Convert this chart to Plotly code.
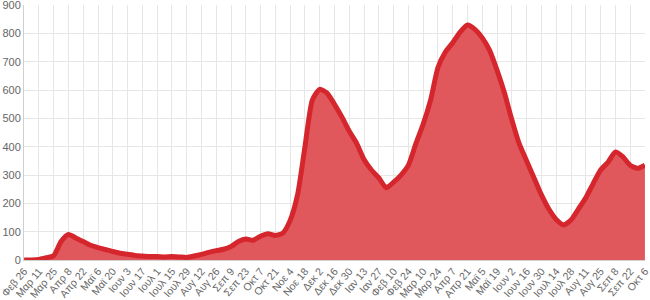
import datetime as dt
import plotly.graph_objects as go

# Weekly readings (start date + values)
start_date = "2020-02-26"
values = [
    0, 0, 2, 8, 15, 65, 90, 78, 65, 52,
    44, 37, 30, 24, 20, 16, 14, 12, 12, 11,
    12, 11, 9, 14, 20, 27, 33, 38, 48, 65,
    74, 70, 84, 93, 87, 95, 140, 230, 400, 565,
    603, 590, 550, 505, 455, 412, 355, 318, 290, 255,
    275, 300, 335, 410, 480, 565, 680, 735, 768, 805,
    830, 815, 785, 740, 670, 590, 495, 410, 350, 290,
    230, 180, 143, 124, 141, 180, 220, 270, 318, 345,
    382, 365, 335, 324, 335,
]
months_gr = ["Ιαν", "Φεβ", "Μαρ", "Απρ", "Μαϊ", "Ιουν",
             "Ιουλ", "Αυγ", "Σεπ", "Οκτ", "Νοε", "Δεκ"]
y_ticks = [0, 100, 200, 300, 400, 500, 600, 700, 800, 900]

d0 = dt.date.fromisoformat(start_date)
dates = [d0 + dt.timedelta(days=7 * i) for i in range(len(values))]
end_date = dates[-1]

tick_dates = []
d = d0
while d <= end_date:
    tick_dates.append(d)
    d += dt.timedelta(days=14)
tick_text = [f"{months_gr[t.month - 1]} {t.day}" for t in tick_dates]

fig = go.Figure()
fig.add_trace(go.Scatter(
    x=dates, y=values,
    mode="lines",
    line=dict(color="#d6262d", width=5, shape="spline", smoothing=0.6),
    fill="tozeroy",
    fillcolor="#e0575c",
    hoverinfo="skip",
))

x_lo = dt.datetime.combine(d0, dt.time()) - dt.timedelta(hours=2)
x_hi = dt.datetime.combine(end_date, dt.time()) + dt.timedelta(hours=2)

font_family = "Liberation Sans, Arial, sans-serif"
fig.update_layout(
    width=650, height=300,
    margin=dict(l=24, r=5, t=5, b=40),
    paper_bgcolor="white", plot_bgcolor="white",
    showlegend=False,
    font=dict(family=font_family, size=11, color="#666"),
    xaxis=dict(
        type="date",
        range=[x_lo, x_hi],
        tickvals=tick_dates,
        ticktext=tick_text,
        tickangle=-50,
        automargin=False,
        ticklabeloverflow="allow",
        showgrid=True, gridcolor="#e6e6e6", gridwidth=1,
        showline=True, linecolor="#d0d0d0",
        ticks="", zeroline=False,
        tickfont=dict(size=10.5, color="#666"),
    ),
    yaxis=dict(
        range=[0, 901],
        tickvals=y_ticks,
        automargin=False,
        ticklabeloverflow="allow",
        showgrid=True, gridcolor="#e6e6e6", gridwidth=1,
        showline=True, linecolor="#cfcfcf",
        ticks="", zeroline=False,
        tickfont=dict(size=11, color="#666"),
    ),
)

fig.write_html("out.html")
